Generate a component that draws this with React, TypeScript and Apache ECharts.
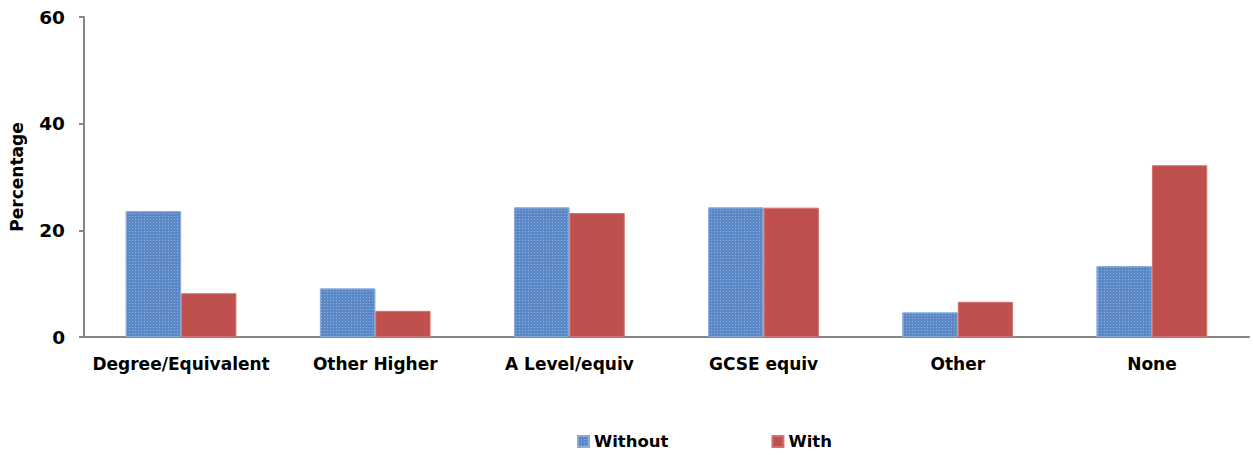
import React, { useEffect, useRef } from "react";
import * as echarts from "echarts";

const categories = ["Degree/Equivalent", "Other Higher", "A Level/equiv", "GCSE equiv", "Other", "None"];
const withoutValues = [23.6, 9.1, 24.3, 24.3, 4.6, 13.3];
const withValues = [8.2, 4.9, 23.25, 24.25, 6.6, 32.2];
const seriesNames = ["Without", "With"];
const yTicks = { min: 0, max: 60, interval: 20 };

const FONT = "DejaVu Sans";

export default function App() {
  const ref = useRef<HTMLDivElement>(null);
  useEffect(() => {
    document.body.style.margin = "0";
    const chart = echarts.init(ref.current!, null, { renderer: "svg" });
    chart.setOption({
      animation: false,
      textStyle: { fontFamily: FONT },
      grid: { left: 83, right: 4, top: 17, bottom: 118, containLabel: false },
      legend: {
        bottom: 0,
        left: 572,
        itemWidth: 11,
        itemHeight: 11,
        itemGap: 103,
        icon: "rect",
        textStyle: { fontFamily: FONT, fontSize: 16.5, fontWeight: "bold", color: "#000", padding: [0, 0, 0, 0] },
        data: seriesNames,
      },
      xAxis: {
        type: "category",
        data: categories,
        axisLine: { lineStyle: { color: "#868686", width: 2 } },
        axisTick: { alignWithLabel: true, length: 6, lineStyle: { color: "#868686", width: 2 } },
        axisLabel: { fontFamily: FONT, fontSize: 17, fontWeight: "bold", color: "#000", margin: 18, interval: 0 },
      },
      yAxis: {
        type: "value",
        min: yTicks.min,
        max: yTicks.max,
        interval: yTicks.interval,
        name: "Percentage",
        nameLocation: "middle",
        nameGap: 59,
        nameTextStyle: { fontFamily: FONT, fontSize: 17, fontWeight: "bold", color: "#000" },
        splitLine: { show: false },
        axisLine: { show: true, lineStyle: { color: "#868686", width: 2 } },
        axisTick: { show: true, length: 5, lineStyle: { color: "#868686", width: 2 } },
        axisLabel: { fontFamily: FONT, fontSize: 18.5, fontWeight: "bold", color: "#000", margin: 19 },
      },
      series: [
        {
          name: seriesNames[0],
          type: "bar",
          data: withoutValues,
          barGap: "0%",
          barCategoryGap: "43%",
          itemStyle: {
            color: "#5a87c6",
            borderColor: "#8aaad8",
            borderWidth: 1,
            decal: {
              symbol: "rect",
              symbolSize: 1,
              color: "rgba(200,215,240,0.55)",
              dashArrayX: [1, 2],
              dashArrayY: [1, 2],
              rotation: 0,
            },
          },
        },
        {
          name: seriesNames[1],
          type: "bar",
          data: withValues,
          itemStyle: { color: "#c0504d", borderColor: "#d3716e", borderWidth: 1 },
        },
      ],
    });
    return () => chart.dispose();
  }, []);
  return <div ref={ref} style={{ width: 1253, height: 455 }} />;
}
